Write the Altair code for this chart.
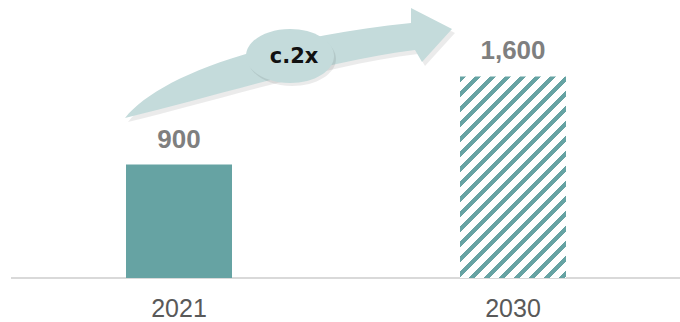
import altair as alt
import pandas as pd

# ---- data ----
years = ["2021", "2030"]
values = [900, 1600]
value_labels = ["900", "1,600"]
kinds = ["actual", "forecast"]
multiple_label = ["c.2x"]

df = pd.DataFrame({"year": years, "value": values, "label": value_labels, "kind": kinds})
note_df = pd.DataFrame({"note": multiple_label})

# ---- layout / style ----
W_PLOT, H_PLOT = 668, 252
PAD = {"left": 12, "top": 26, "right": 0, "bottom": 44}
BAR_W = 106
Y_MAX = 2000
TEAL = "#66a3a3"
ARROW = "#c4dbdb"
FONT = "Liberation Sans"

x_enc = alt.X("year:N", scale=alt.Scale(domain=years, paddingInner=0, paddingOuter=0), axis=None)
y_enc = alt.Y("value:Q", scale=alt.Scale(domain=[0, Y_MAX]), axis=None)

base = alt.Chart(df)

# baseline
baseline = base.mark_rule(stroke="#d9d9d9", strokeWidth=2).encode(
    x=alt.value(-1), x2=alt.value(W_PLOT), y=alt.value(H_PLOT)
)

solid = base.transform_filter(alt.datum.kind == "actual").mark_bar(
    width=BAR_W, fill=TEAL
).encode(x=x_enc, y=y_enc)

# diagonal hatch via a hard-stop linear gradient in bounding-box units
fc_value = values[kinds.index("forecast")]
bar_h = fc_value * H_PLOT / Y_MAX
S = BAR_W + bar_h
L2 = BAR_W ** 2 + bar_h ** 2
period, stripe = 15.0, 6.5
stops = []
pos = 0.0
while pos < S:
    a = pos / S
    b = min((pos + stripe) / S, 1.0)
    c = min((pos + period) / S, 1.0)
    stops += [
        alt.GradientStop(offset=a, color=TEAL),
        alt.GradientStop(offset=b, color=TEAL),
        alt.GradientStop(offset=b, color="#ffffff"),
        alt.GradientStop(offset=c, color="#ffffff"),
    ]
    pos += period
hatch = alt.LinearGradient(
    gradient="linear", stops=stops, x1=0, y1=0,
    x2=BAR_W * S / L2, y2=bar_h * S / L2,
)
hatched = base.transform_filter(alt.datum.kind == "forecast").mark_bar(
    width=BAR_W, fill=hatch
).encode(x=x_enc, y=y_enc)

value_text = base.mark_text(
    font=FONT, fontSize=26, fontWeight="bold", color="#7f7f7f",
    baseline="alphabetic", align="center", dy=-17
).encode(x=x_enc, y=y_enc, text="label:N")

year_text = base.mark_text(
    font=FONT, fontSize=25, color="#595959", baseline="alphabetic", align="center"
).encode(x=x_enc, y=alt.value(291), text="year:N")

# curved growth arrow (decorative shape, pixel offsets around its centre)
arrow_path = ("M -164 55 C -134 17 -39 -23 122 -40 L 122 -55 L 163 -34 "
              "L 133 -1 L 126 -13 C 41 -3 -69 32 -164 55 Z")
ellipse_path = "M -44 0 A 44 27 0 1 0 44 0 A 44 27 0 1 0 -44 0 Z"

note = alt.Chart(note_df)
arrow_shadow = note.mark_point(shape=arrow_path, size=4, filled=True, fill="#000000",
                               opacity=0.08, strokeWidth=0).encode(
    x=alt.value(280), y=alt.value(41))
arrow = note.mark_point(shape=arrow_path, size=4, filled=True, fill=ARROW,
                        opacity=1, strokeWidth=0).encode(
    x=alt.value(277), y=alt.value(37))
ell_shadow = note.mark_point(shape=ellipse_path, size=4, filled=True, fill="#000000",
                             opacity=0.08, strokeWidth=0).encode(
    x=alt.value(280), y=alt.value(33))
ell = note.mark_point(shape=ellipse_path, size=4, filled=True, fill=ARROW,
                      opacity=1, strokeWidth=0).encode(
    x=alt.value(278), y=alt.value(30))
note_text = note.mark_text(font="DejaVu Sans", fontSize=21, fontWeight="bold", color="#111111",
                           baseline="alphabetic", align="center").encode(
    x=alt.value(282), y=alt.value(37), text="note:N")

chart = alt.layer(
    baseline, solid, hatched, value_text, year_text,
    arrow_shadow, arrow, ell_shadow, ell, note_text
).properties(
    width=W_PLOT, height=H_PLOT, padding=PAD,
    autosize=alt.AutoSizeParams(type="none"),
    background="white",
).configure_view(strokeWidth=0)

chart.save("out.html", embed_options={"renderer": "svg", "actions": False})
